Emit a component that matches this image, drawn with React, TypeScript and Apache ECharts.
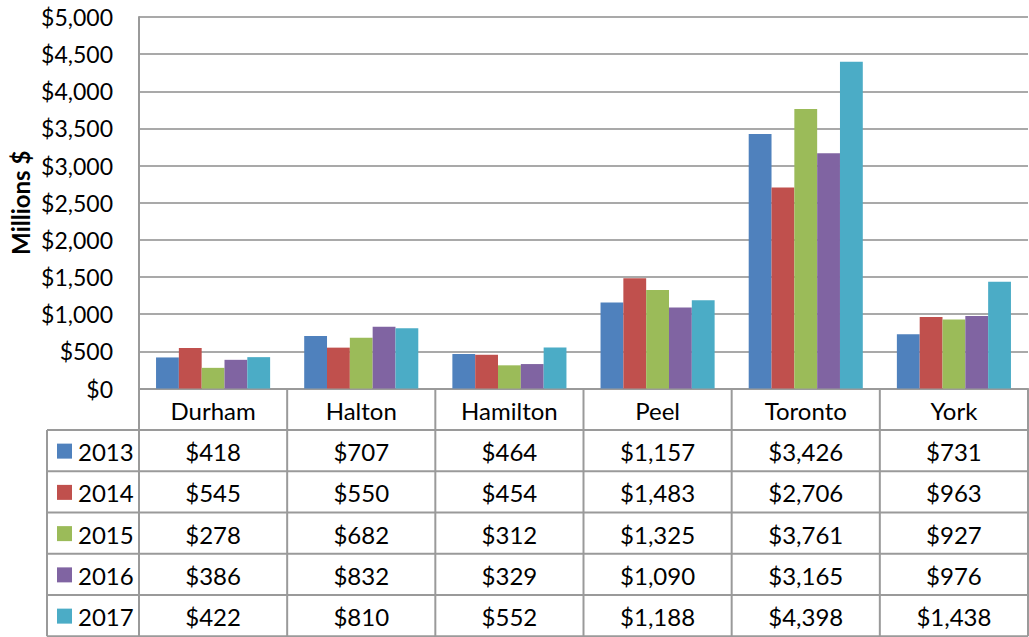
import React, { useEffect, useRef } from "react";
import * as echarts from "echarts";

const categories = ["Durham", "Halton", "Hamilton", "Peel", "Toronto", "York"];
const years = ["2013", "2014", "2015", "2016", "2017"];
const v2013 = [418, 707, 464, 1157, 3426, 731];
const v2014 = [545, 550, 454, 1483, 2706, 963];
const v2015 = [278, 682, 312, 1325, 3761, 927];
const v2016 = [386, 832, 329, 1090, 3165, 976];
const v2017 = [422, 810, 552, 1188, 4398, 1438];
const seriesValues = [v2013, v2014, v2015, v2016, v2017];
const colors = ["#4F81BD", "#C0504D", "#9BBB59", "#8064A2", "#4BACC6"];
const axisTitle = "Millions $";

const W = 1029;
const H = 637;
const GL = 139;
const GR = 1028;
const GT = 17;
const GB = 388.5;
const TABLE_LEFT = 47;
const CAT_ROW_H = 41.5;
const ROW_H = 41.25;
const FONT = "Lato, 'Open Sans', sans-serif";
const LINE = "#9a9a9a";

const fmt = (n: number) => "$" + n.toLocaleString("en-US");

export default function App() {
  const ref = useRef<HTMLDivElement>(null);
  useEffect(() => {
    if (!ref.current) return;
    const chart = echarts.init(ref.current, null, { renderer: "svg" });
    const colW = (GR - GL) / categories.length;
    const rowTop = GB + CAT_ROW_H;
    const bottom = rowTop + ROW_H * years.length;
    const graphics: any[] = [];
    categories.forEach((c, i) => {
      graphics.push({
        type: "text",
        x: GL + colW * (i + 0.5),
        y: GB + CAT_ROW_H / 2 + 1,
        style: { text: c, fill: "#000", font: `24px ${FONT}`, align: "center", verticalAlign: "middle" },
      });
    });
    years.forEach((yr, r) => {
      const cy = rowTop + ROW_H * (r + 0.5) + 1;
      graphics.push({
        type: "rect",
        shape: { x: 57, y: cy - 8, width: 15, height: 15 },
        style: { fill: colors[r] },
      });
      graphics.push({
        type: "text",
        x: 78,
        y: cy,
        style: { text: yr, fill: "#000", font: `24px ${FONT}`, align: "left", verticalAlign: "middle" },
      });
      seriesValues[r].forEach((v, i) => {
        graphics.push({
          type: "text",
          x: GL + colW * (i + 0.5),
          y: cy,
          style: { text: fmt(v), fill: "#000", font: `24px ${FONT}`, align: "center", verticalAlign: "middle" },
        });
      });
    });
    for (let r = 0; r <= years.length; r++) {
      const y = rowTop + ROW_H * r;
      graphics.push({
        type: "line",
        shape: { x1: TABLE_LEFT, y1: y, x2: GR, y2: y },
        style: { stroke: LINE, lineWidth: 2 },
      });
    }
    for (let i = 0; i <= categories.length; i++) {
      const x = GL + colW * i;
      graphics.push({
        type: "line",
        shape: { x1: x, y1: GB, x2: x, y2: bottom },
        style: { stroke: LINE, lineWidth: 2 },
      });
    }
    graphics.push({
      type: "line",
      shape: { x1: TABLE_LEFT, y1: rowTop, x2: TABLE_LEFT, y2: bottom },
      style: { stroke: LINE, lineWidth: 2 },
    });
    graphics.push({
      type: "text",
      x: 20,
      y: (GT + GB) / 2,
      rotation: Math.PI / 2,
      style: {
        text: axisTitle,
        fill: "#000",
        font: `bold 24px ${FONT}`,
        align: "center",
        verticalAlign: "middle",
      },
    });

    chart.setOption({
      animation: false,
      grid: { left: GL, right: W - GR, top: GT, bottom: H - GB, containLabel: false },
      xAxis: {
        type: "category",
        data: categories,
        axisLabel: { show: false },
        axisTick: { show: false },
        axisLine: { show: true, lineStyle: { color: LINE, width: 2 } },
      },
      yAxis: {
        type: "value",
        min: 0,
        max: 5000,
        interval: 500,
        axisLabel: {
          formatter: (v: number) => fmt(v),
          color: "#000",
          fontSize: 23,
          fontFamily: FONT,
          margin: 26,
        },
        axisTick: { show: false },
        axisLine: { show: true, lineStyle: { color: LINE, width: 2 } },
        splitLine: { show: true, lineStyle: { color: "#8c8c8c", width: 1.5 } },
      },
      series: years.map((yr, i) => ({
        name: yr,
        type: "bar",
        data: seriesValues[i],
        itemStyle: { color: colors[i] },
        barGap: "0%",
        barCategoryGap: "23%",
      })),
      graphic: graphics,
    });
    return () => chart.dispose();
  }, []);
  return (
    <div
      ref={ref}
      style={{ position: "fixed", left: 0, top: 0, width: W, height: H, background: "#fff" }}
    />
  );
}
